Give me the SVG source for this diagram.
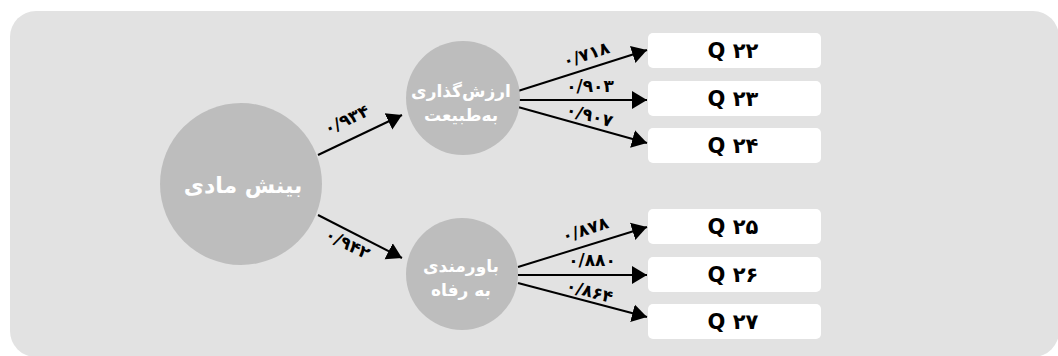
<svg xmlns="http://www.w3.org/2000/svg" width="1058" height="356" viewBox="0 0 1058 356">
<style>
.node-c{fill:#bdbdbd}
.box{fill:#ffffff}
.ctext{fill:#ffffff;font-family:"DejaVu Sans","Noto Sans",sans-serif;font-weight:bold;text-anchor:middle}
.qtext{fill:#000;font-family:"DejaVu Sans","Liberation Sans",sans-serif;font-weight:bold;font-size:21px;text-anchor:middle}
.lbl{fill:#000;font-family:"DejaVu Sans","Liberation Sans",sans-serif;font-weight:bold;font-size:17px;text-anchor:middle}
.arr{stroke:#000;stroke-width:2;fill:none;marker-end:url(#ah)}
</style>
<defs>
<marker id="ah" markerUnits="userSpaceOnUse" markerWidth="16" markerHeight="20" refX="15" refY="10" orient="auto" viewBox="0 0 16 20">
<path d="M0,1 L15,10 L0,19 z" fill="#000"/>
</marker>
</defs>
<rect x="10" y="11" width="1049" height="346" rx="26" ry="26" fill="#e2e2e2"/>
<g id="connectors">
<line class="arr" x1="318" y1="155" x2="402" y2="115"/>
<line class="arr" x1="318" y1="215" x2="402" y2="258"/>
<line class="arr" x1="518" y1="91" x2="647" y2="50"/>
<line class="arr" x1="518" y1="100" x2="647" y2="100"/>
<line class="arr" x1="518" y1="107" x2="647" y2="143"/>
<line class="arr" x1="518" y1="267" x2="647" y2="227"/>
<line class="arr" x1="518" y1="275" x2="647" y2="275"/>
<line class="arr" x1="518" y1="283" x2="647" y2="317"/>
<text class="lbl" transform="translate(349,125) rotate(-25)">۰/۹۳۴</text>
<text class="lbl" transform="translate(345,249) rotate(27)">۰/۹۴۲</text>
<text class="lbl" transform="translate(588,60) rotate(-18)">۰/۷۱۸</text>
<text class="lbl" transform="translate(590,92)">۰/۹۰۳</text>
<text class="lbl" transform="translate(588,121) rotate(15)">۰/۹۰۷</text>
<text class="lbl" transform="translate(587,235) rotate(-18)">۰/۸۷۸</text>
<text class="lbl" transform="translate(592,266)">۰/۸۸۰</text>
<text class="lbl" transform="translate(588,297) rotate(15)">۰/۸۶۴</text>
</g>
<g id="n-main">
<circle class="node-c" cx="241" cy="184" r="81"/>
<text class="ctext" x="243" y="193" font-size="22" direction="rtl">بینش مادی</text>
</g>
<g id="n-nature">
<circle class="node-c" cx="463" cy="98" r="57"/>
<text class="ctext" x="461" y="97" font-size="17" direction="rtl">ارزش‌گذاری</text>
<text class="ctext" x="461" y="121" font-size="17" direction="rtl">به‌طبیعت</text>
</g>
<g id="n-welfare">
<circle class="node-c" cx="462" cy="274" r="56"/>
<text class="ctext" x="461" y="272" font-size="17" direction="rtl">باورمندی</text>
<text class="ctext" x="461" y="296" font-size="17" direction="rtl">به رفاه</text>
</g>
<g id="q22"><rect class="box" x="648" y="33" width="173" height="35" rx="5"/><text class="qtext" x="733" y="58">Q ۲۲</text></g>
<g id="q23"><rect class="box" x="648" y="81" width="173" height="35" rx="5"/><text class="qtext" x="733" y="106">Q ۲۳</text></g>
<g id="q24"><rect class="box" x="648" y="128" width="173" height="35" rx="5"/><text class="qtext" x="733" y="153">Q ۲۴</text></g>
<g id="q25"><rect class="box" x="648" y="209" width="173" height="35" rx="5"/><text class="qtext" x="733" y="234">Q ۲۵</text></g>
<g id="q26"><rect class="box" x="648" y="257" width="173" height="35" rx="5"/><text class="qtext" x="733" y="282">Q ۲۶</text></g>
<g id="q27"><rect class="box" x="648" y="304" width="173" height="35" rx="5"/><text class="qtext" x="733" y="329">Q ۲۷</text></g>
</svg>
